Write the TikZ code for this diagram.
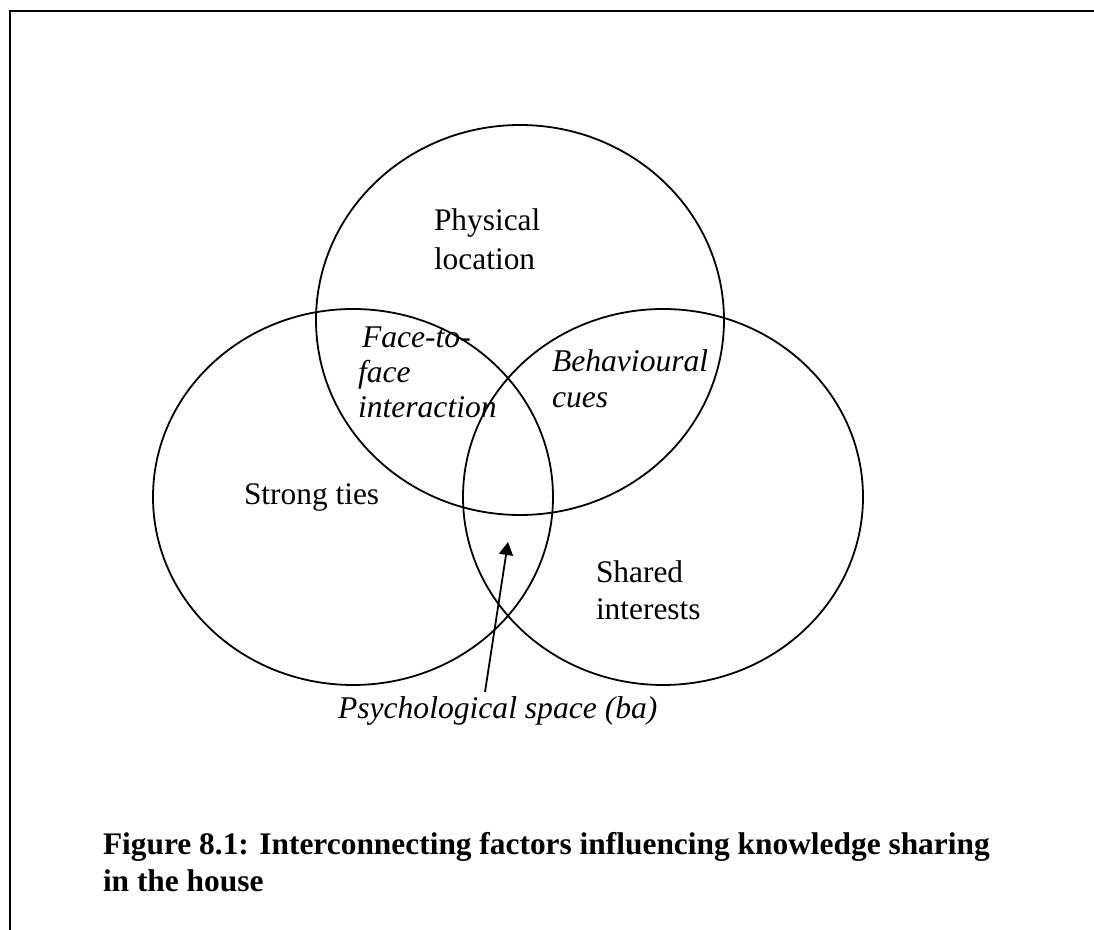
\documentclass[tikz,border=0pt]{standalone}
\usepackage{fontspec}
\setmainfont{Liberation Serif}
\usetikzlibrary{shapes.geometric,arrows.meta}
\begin{document}
\begin{tikzpicture}[x=0.5pt,y=-0.5pt,
  setshape/.style={draw, ellipse, line width=0.9pt, inner sep=0pt, outer sep=0pt},
  lbl/.style={anchor=base west, inner sep=0pt, outer sep=0pt, font=\fontsize{15.7}{18}\selectfont},
  ilbl/.style={lbl, font=\fontsize{15.8}{18}\selectfont\itshape},
  capt/.style={lbl, font=\fontsize{15.7}{19}\selectfont\bfseries},
  pointer/.style={line width=0.9pt, -{Triangle[length=6.5pt,width=7pt]}}
]
\useasboundingbox (0,0) rectangle (1094,930);
% frame
\draw[line width=1.2pt] (10,930) -- (10,11) -- (1094,11);

% the three overlapping sets
\node[setshape, minimum width=204pt, minimum height=195pt] (loc) at (520,320) {};
\node[setshape, minimum width=200pt, minimum height=188pt] (ties) at (353,497) {};
\node[setshape, minimum width=200pt, minimum height=188pt] (interests) at (663,497) {};

% set labels
\node[lbl] (loc1) at (434,231) {Physical};
\node[lbl] (loc2) at (434,270) {location};
\node[lbl] (ties1) at (244,505) {Strong ties};
\node[lbl] (int1) at (596,583) {Shared};
\node[lbl] (int2) at (596,620) {interests};

% overlap labels
\node[ilbl] (ff1) at (362,348) {Face-to-};
\node[ilbl] (ff2) at (358,383) {face};
\node[ilbl] (ff3) at (358,418) {interaction};
\node[ilbl] (bc1) at (552,372) {Behavioural};
\node[ilbl] (bc2) at (552,408) {cues};

% centre of all three: ba
\coordinate (ba) at (508,542);
\coordinate (batail) at (485,692);
\draw[pointer] (batail) -- (ba);
\node[ilbl] (balabel) at (338,719) {Psychological space (ba)};

% caption
\node[capt] (cap1) at (103,855) {Figure 8.1: Interconnecting factors influencing knowledge sharing};
\node[capt] (cap2) at (103,892) {in the house};
\end{tikzpicture}
\end{document}
